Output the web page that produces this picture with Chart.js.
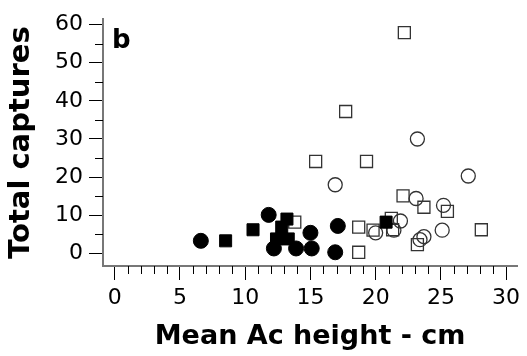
<!DOCTYPE html>
<html>
<head>
<meta charset="utf-8">
<script src="https://cdn.jsdelivr.net/npm/chart.js@4.4.1/dist/chart.umd.min.js"></script>
<style>
  html, body { margin: 0; padding: 0; background: #fff; }
  #wrap { width: 527px; height: 356px; }
</style>
</head>
<body>
<div id="wrap"><canvas id="chart" width="527" height="356"></canvas></div>
<script>
// Filled circles
const filledCircleX = [6.6, 11.8, 12.2, 13.9, 15.1, 15.0, 17.1, 16.9];
const filledCircleY = [3.3, 10.1, 1.3, 1.3, 1.3, 5.4, 7.2, 0.3];

// Filled squares
const filledSquareX = [8.5, 10.6, 12.4, 13.3, 12.8, 13.2, 20.8];
const filledSquareY = [3.3, 6.2, 3.8, 3.8, 6.9, 9.0, 8.2];

// Open squares
const openSquareX = [22.2, 17.7, 15.4, 19.3, 22.1, 23.7, 25.5, 28.1, 23.2, 21.2, 21.3, 18.7, 18.7, 19.8, 13.8];
const openSquareY = [57.9, 37.2, 24.1, 24.1, 15.1, 12.1, 11.0, 6.2, 2.3, 9.2, 6.2, 6.9, 0.3, 6.1, 8.2];

// Open circles
const openCircleX = [16.9, 27.1, 23.2, 23.1, 25.2, 21.9, 20.0, 21.4, 25.1, 23.7, 23.4];
const openCircleY = [18.0, 20.3, 30.0, 14.4, 12.6, 8.5, 5.4, 6.1, 6.1, 4.4, 3.6];

// Axis ticks
const xTicks = [0, 5, 10, 15, 20, 25, 30];
const yTicks = [0, 10, 20, 30, 40, 50, 60];
const xMinor = [1, 2, 3, 4, 6, 7, 8, 9, 11, 12, 13, 14, 16, 17, 18, 19, 21, 22, 23, 24, 26, 27, 28, 29];
const yMinor = [5, 15, 25, 35, 45, 55];

const panelLabel = 'b';

function toPoints(xs, ys) {
    return xs.map((x, i) => ({ x: x, y: ys[i] }));
}

// minor ticks and the panel letter
const extras = {
    id: 'extras',
    afterDraw(chart) {
        const ctx = chart.ctx;
        const xs = chart.scales.x;
        const ys = chart.scales.y;
        ctx.save();
        ctx.strokeStyle = '#000';
        ctx.lineWidth = 1;
        ctx.beginPath();
        xMinor.forEach(v => {
            const px = Math.round(xs.getPixelForValue(v)) + 0.5;
            ctx.moveTo(px, xs.top);
            ctx.lineTo(px, xs.top + 8);
        });
        yMinor.forEach(v => {
            const py = Math.round(ys.getPixelForValue(v)) + 0.5;
            ctx.moveTo(ys.right, py);
            ctx.lineTo(ys.right - 8, py);
        });
        ctx.stroke();
        ctx.fillStyle = '#000';
        ctx.font = 'bold 26px "DejaVu Sans"';
        ctx.textBaseline = 'alphabetic';
        ctx.fillText(panelLabel, chart.chartArea.left + 9, chart.chartArea.top + 29);
        ctx.restore();
    }
};

const ctx = document.getElementById('chart').getContext('2d');
new Chart(ctx, {
    type: 'scatter',
    data: {
        datasets: [
            {
                data: toPoints(filledCircleX, filledCircleY),
                pointStyle: 'circle',
                pointRadius: 7.5,
                backgroundColor: '#000',
                borderColor: '#000',
                borderWidth: 1
            },
            {
                data: toPoints(filledSquareX, filledSquareY),
                pointStyle: 'rect',
                pointRadius: 8.5,
                backgroundColor: '#000',
                borderColor: '#000',
                borderWidth: 1
            },
            {
                data: toPoints(openSquareX, openSquareY),
                pointStyle: 'rect',
                pointRadius: 8.5,
                backgroundColor: 'rgba(0,0,0,0)',
                borderColor: '#333',
                borderWidth: 1.3
            },
            {
                data: toPoints(openCircleX, openCircleY),
                pointStyle: 'circle',
                pointRadius: 7,
                backgroundColor: 'rgba(0,0,0,0)',
                borderColor: '#333',
                borderWidth: 1.3
            }
        ]
    },
    options: {
        responsive: false,
        animation: false,
        events: [],
        layout: { padding: { left: 0, top: 14, right: 3, bottom: 0 } },
        plugins: {
            legend: { display: false },
            tooltip: { enabled: false }
        },
        scales: {
            x: {
                type: 'linear',
                min: -0.9,
                max: 30.85,
                afterBuildTicks: scale => { scale.ticks = xTicks.map(v => ({ value: v })); },
                afterFit: scale => { scale.height = 90; },
                border: { display: true, color: '#777', width: 2 },
                grid: { drawOnChartArea: false, drawTicks: true, tickLength: 14, tickColor: '#000', tickWidth: 1 },
                ticks: {
                    color: '#000',
                    padding: 5,
                    maxRotation: 0,
                    font: { family: 'DejaVu Sans', size: 22 }
                },
                title: {
                    display: true,
                    text: 'Mean Ac height - cm',
                    color: '#000',
                    padding: { top: 0, bottom: 3 },
                    font: { family: 'DejaVu Sans', size: 27, weight: 'bold' }
                }
            },
            y: {
                type: 'linear',
                min: -3.3,
                max: 61.4,
                afterBuildTicks: scale => { scale.ticks = yTicks.map(v => ({ value: v })); },
                afterFit: scale => { scale.width = 103; },
                border: { display: true, color: '#777', width: 2 },
                grid: { drawOnChartArea: false, drawTicks: true, tickLength: 14, tickColor: '#000', tickWidth: 1 },
                ticks: {
                    color: '#000',
                    padding: 6,
                    font: { family: 'DejaVu Sans', size: 22 }
                },
                title: {
                    display: true,
                    text: 'Total captures',
                    color: '#000',
                    padding: { top: 4, bottom: 0 },
                    font: { family: 'DejaVu Sans', size: 29, weight: 'bold' }
                }
            }
        }
    },
    plugins: [extras]
});
</script>
</body>
</html>
